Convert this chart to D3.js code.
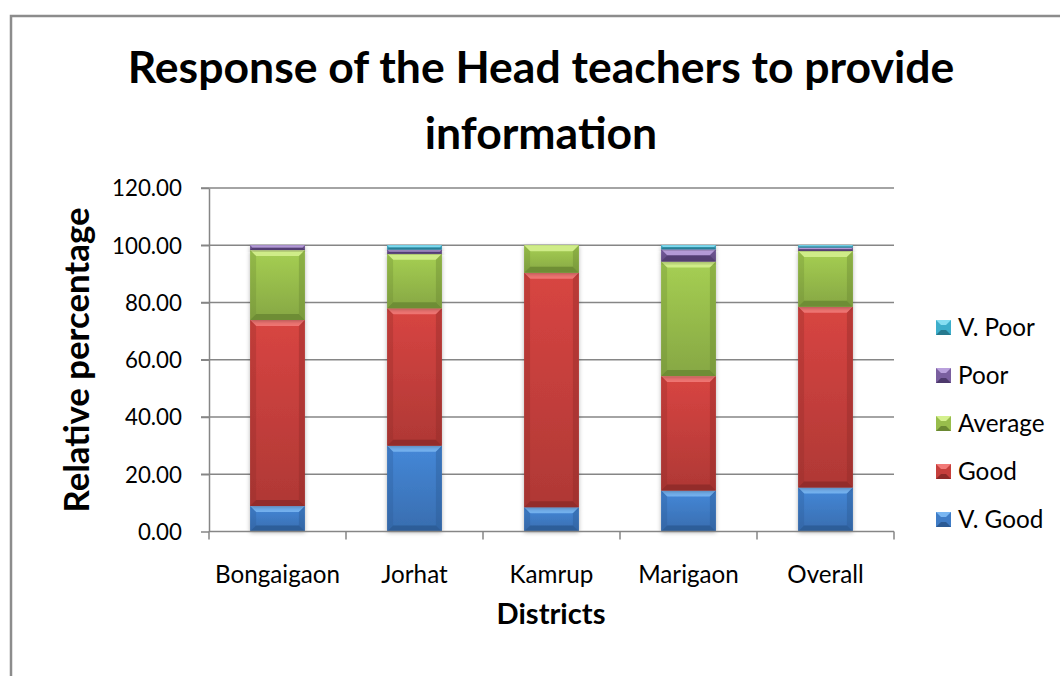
<!DOCTYPE html>
<html>
<head>
  <meta charset="utf-8">
  <title>Response of the Head teachers</title>
  <script src="https://d3js.org/d3.v7.min.js"></script>
  <style>
    body { margin: 0; background: #fff; }
    text { font-family: Lato, "Open Sans", sans-serif; fill: #000; }
    .grid line { stroke: #868686; stroke-width: 1.5; }
    .axis path, .axis line { stroke: #868686; stroke-width: 1.5; }
  </style>
</head>
<body>
<svg width="1060" height="676"></svg>
<script>
  // values (relative percentage per district)
  var districts = ["Bongaigaon", "Jorhat", "Kamrup", "Marigaon", "Overall"];
  var vGood   = [8.9, 30.0, 8.5, 14.3, 15.4];
  var good    = [65.0, 48.0, 81.9, 40.0, 63.1];
  var average = [24.4, 19.0, 9.6, 40.0, 19.5];
  var poor    = [1.7, 1.5, 0.0, 4.3, 1.2];
  var vPoor   = [0.0, 1.5, 0.0, 1.4, 0.8];
  var seriesNames = ["V. Good", "Good", "Average", "Poor", "V. Poor"];
  var yTicks = [0, 20, 40, 60, 80, 100, 120];

  // face / light bevel / dark bevel
  var colors = {
    "V. Good": ["#3f7cc6", "#79b6f2", "#2b5a94"],
    "Good":    ["#c63f3c", "#f27a78", "#8e2a28"],
    "Average": ["#98bd4c", "#d4f08e", "#6a8832"],
    "Poor":    ["#7a5f9f", "#b9a0dc", "#4d396c"],
    "V. Poor": ["#3daecb", "#86def2", "#26798e"]
  };

  var table = districts.map(function(d, i) {
    return { district: d, "V. Good": vGood[i], "Good": good[i], "Average": average[i], "Poor": poor[i], "V. Poor": vPoor[i] };
  });
  var stacked = d3.stack().keys(seriesNames)(table);

  var svg = d3.select("svg");
  var margin = { left: 209, right: 894, top: 188, bottom: 531.5 };

  var x = d3.scaleBand().domain(districts).range([margin.left, margin.right]).paddingInner(0.6).paddingOuter(0.3);
  var x0 = d3.scaleBand().domain(districts).range([margin.left, margin.right]);
  var y = d3.scaleLinear().domain([0, 120]).range([margin.bottom, margin.top]);

  // pick a font size so that a sample string gets the wanted width
  function fitSize(sample, width, weight) {
    var t = svg.append("text").attr("font-size", 100).attr("font-weight", weight || "normal").text(sample);
    var w = t.node().getComputedTextLength();
    t.remove();
    return 100 * width / w;
  }
  var tickSize = fitSize("100.00", 70);
  var catSize = fitSize("Bongaigaon", 125);
  var legSize = fitSize("V. Poor", 77);

  // outer frame
  svg.append("path")
    .attr("d", "M11,690 L11,16 L1070,16")
    .attr("fill", "none").attr("stroke", "#8c8c8c").attr("stroke-width", 2.5);

  var defs = svg.append("defs");
  var f = defs.append("filter").attr("id", "shadow").attr("x", "-20%").attr("y", "-20%").attr("width", "140%").attr("height", "140%");
  f.append("feDropShadow").attr("dx", 0).attr("dy", 1).attr("stdDeviation", 2).attr("flood-color", "#000").attr("flood-opacity", 0.3);

  seriesNames.forEach(function(s) {
    var g = defs.append("linearGradient").attr("id", "face-" + s.replace(/\W/g, "")).attr("x1", 0).attr("x2", 0).attr("y1", 0).attr("y2", 1);
    g.append("stop").attr("offset", "0%").attr("stop-color", d3.color(colors[s][0]).brighter(0.25));
    g.append("stop").attr("offset", "100%").attr("stop-color", d3.color(colors[s][0]).darker(0.35));
  });

  // gridlines
  svg.append("g").attr("class", "grid")
    .selectAll("line").data(yTicks.slice(1)).enter().append("line")
    .attr("x1", margin.left - 8).attr("x2", margin.right)
    .attr("y1", function(d) { return y(d); }).attr("y2", function(d) { return y(d); });

  // y axis
  var yAxis = svg.append("g").attr("class", "axis")
    .attr("transform", "translate(" + margin.left + ",0)")
    .call(d3.axisLeft(y).tickValues(yTicks).tickSize(8).tickSizeOuter(0).tickFormat(d3.format(".2f")));
  yAxis.selectAll("text").attr("font-size", tickSize).attr("x", -27).attr("dy", "0.35em")
    .style("font-family", "Lato, sans-serif");

  // bars
  var layer = svg.append("g").selectAll("g").data(stacked).enter().append("g");
  layer.each(function(ser) {
    var key = ser.key, c = colors[key];
    var gid = "url(#face-" + key.replace(/\W/g, "") + ")";
    d3.select(this).selectAll("g.bar").data(ser.filter(function(d) { return d[1] - d[0] > 0; })).enter()
      .append("g").attr("class", "bar")
      .each(function(d) {
        var bx = x(d.data.district), bw = x.bandwidth();
        var top = y(d[1]), bot = y(d[0]), h = bot - top;
        var b = Math.min(6, h / 2);
        var sel = d3.select(this);
        sel.append("rect").attr("x", bx).attr("y", top).attr("width", bw).attr("height", h)
          .attr("fill", gid).attr("filter", "url(#shadow)");
        // bevel edges
        sel.append("path").attr("fill", c[1]).attr("opacity", 0.9)
          .attr("d", "M" + bx + "," + top + "H" + (bx + bw) + "L" + (bx + bw - b) + "," + (top + b) + "H" + (bx + b) + "Z");
        sel.append("path").attr("fill", c[2]).attr("opacity", 0.85)
          .attr("d", "M" + bx + "," + bot + "H" + (bx + bw) + "L" + (bx + bw - b) + "," + (bot - b) + "H" + (bx + b) + "Z");
        sel.append("path").attr("fill", c[2]).attr("opacity", 0.3)
          .attr("d", "M" + bx + "," + top + "L" + (bx + b) + "," + (top + b) + "V" + (bot - b) + "L" + bx + "," + bot + "Z");
        sel.append("path").attr("fill", c[2]).attr("opacity", 0.4)
          .attr("d", "M" + (bx + bw) + "," + top + "L" + (bx + bw - b) + "," + (top + b) + "V" + (bot - b) + "L" + (bx + bw) + "," + bot + "Z");
      });
  });

  // x axis with ticks between categories
  var xAxis = svg.append("g").attr("class", "axis").attr("transform", "translate(0," + margin.bottom + ")");
  xAxis.append("line").attr("x1", margin.left).attr("x2", margin.right);
  var bounds = districts.map(function(d) { return x0(d); }).concat([margin.right]);
  xAxis.selectAll("line.tk").data(bounds).enter().append("line").attr("class", "tk")
    .attr("x1", function(d) { return d; }).attr("x2", function(d) { return d; })
    .attr("y1", 0).attr("y2", 8);
  xAxis.selectAll("text").data(districts).enter().append("text")
    .attr("x", function(d) { return x0(d) + x0.bandwidth() / 2; })
    .attr("y", 51).attr("text-anchor", "middle").attr("font-size", catSize)
    .text(function(d) { return d; });

  // legend
  var legend = svg.append("g").selectAll("g").data(seriesNames.slice().reverse()).enter().append("g")
    .attr("transform", function(d, i) { return "translate(936," + (327 + i * 48) + ")"; });
  legend.append("rect").attr("x", 0).attr("y", -7).attr("width", 15).attr("height", 15)
    .attr("fill", function(d) { return colors[d][0]; });
  legend.append("path").attr("fill", function(d) { return colors[d][1]; })
    .attr("d", "M0,-7H15L10,-2H5Z");
  legend.append("path").attr("fill", function(d) { return colors[d][2]; })
    .attr("d", "M0,8H15L10,3H5Z");
  legend.append("text").attr("x", 22).attr("dy", "0.36em").attr("font-size", legSize)
    .text(function(d) { return d; });

  // titles
  var titleSize = fitSize("Response of the Head teachers to provide", 827, "bold");
  var title = svg.append("text").attr("text-anchor", "middle").attr("font-weight", "bold").attr("font-size", titleSize);
  title.append("tspan").attr("x", 541).attr("y", 83).text("Response of the Head teachers to provide");
  title.append("tspan").attr("x", 541).attr("y", 149).text("information");

  svg.append("text").attr("transform", "translate(89,360) rotate(-90)")
    .attr("text-anchor", "middle").attr("font-weight", "bold")
    .attr("font-size", fitSize("Relative percentage", 305, "bold"))
    .text("Relative percentage");

  svg.append("text").attr("x", 551).attr("y", 624)
    .attr("text-anchor", "middle").attr("font-weight", "bold")
    .attr("font-size", fitSize("Districts", 109, "bold"))
    .text("Districts");
</script>
</body>
</html>
